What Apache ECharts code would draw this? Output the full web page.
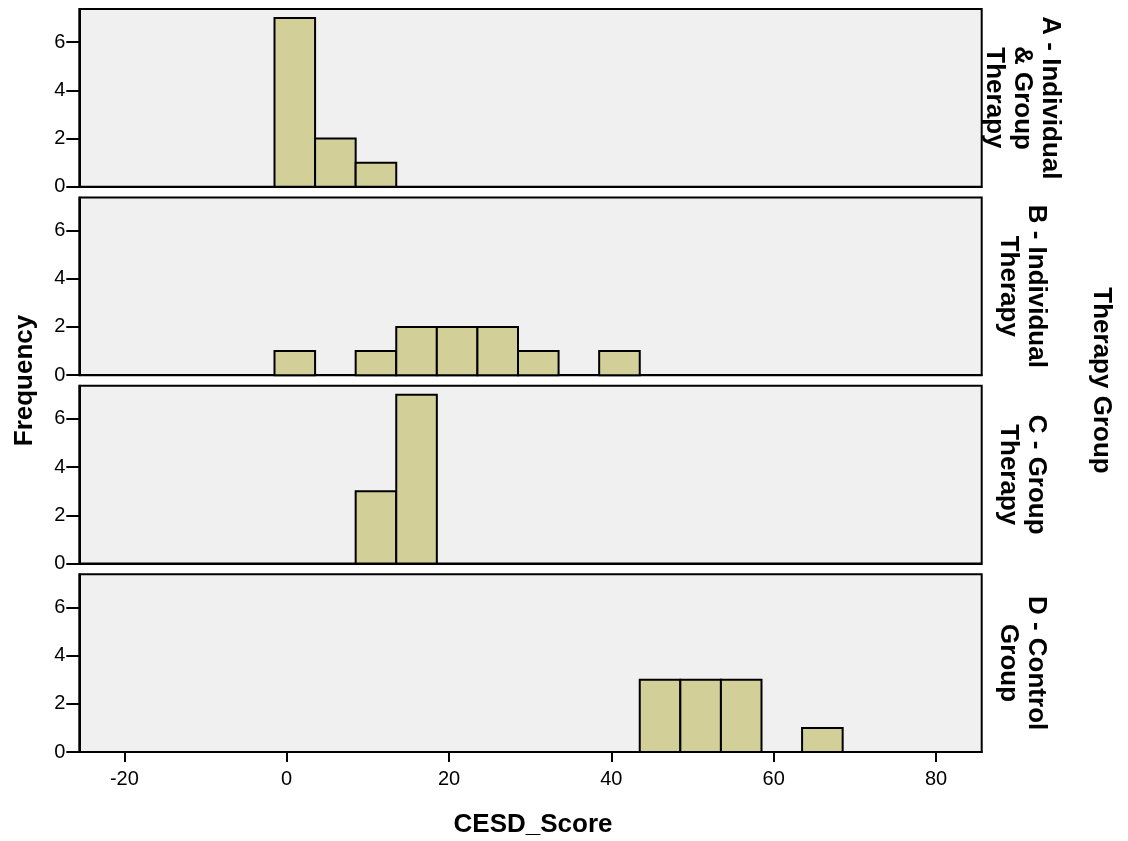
<!DOCTYPE html>
<html>
<head>
<meta charset="utf-8">
<title>CESD_Score by Therapy Group</title>
<script src="https://cdn.jsdelivr.net/npm/echarts@6/dist/echarts.min.js"></script>
<style>
  html, body { margin: 0; padding: 0; background: #ffffff; }
  #chart { width: 1128px; height: 841px; }
</style>
</head>
<body>
<div id="chart"></div>
<script>
// Histogram bins: lower edge of each bin, all bins 5 points wide
const binLows = [-1.5, 3.5, 8.5, 13.5, 18.5, 23.5, 28.5, 33.5, 38.5, 43.5, 48.5, 53.5, 58.5, 63.5];
const binWidth = 5;

// Panel labels (one panel per therapy group)
const groupLabels = [
  'A - Individual\n& Group\nTherapy',
  'B - Individual\nTherapy',
  'C - Group\nTherapy',
  'D - Control\nGroup'
];

// Frequency per bin for each group
const countsA = [7, 2, 1, 0, 0, 0, 0, 0, 0, 0, 0, 0, 0, 0];
const countsB = [1, 0, 1, 2, 2, 2, 1, 0, 1, 0, 0, 0, 0, 0];
const countsC = [0, 0, 3, 7, 0, 0, 0, 0, 0, 0, 0, 0, 0, 0];
const countsD = [0, 0, 0, 0, 0, 0, 0, 0, 0, 3, 3, 3, 0, 1];
const groupCounts = [countsA, countsB, countsC, countsD];

// Axis ticks
const xTicks = [-20, 0, 20, 40, 60, 80];
const yTicks = [0, 2, 4, 6];
const xRange = [-25.55, 85.63];
const yMax = 7.37;

// Layout of the stacked panels
const PLOT_LEFT = 79.3;
const PLOT_RIGHT = 981.7;
const PANEL_H = 177.8;
const PANEL_STEP = 188.4;
const FIRST_TOP = 9;

const FONT = '"Liberation Sans", Arial, Helvetica, sans-serif';
const BAR_FILL = '#d3cf98';

const grids = [], xAxes = [], yAxes = [], series = [], graphics = [];

groupCounts.forEach(function (counts, i) {
  const top = FIRST_TOP + i * PANEL_STEP;
  const isBottom = i === groupCounts.length - 1;
  grids.push({
    left: PLOT_LEFT,
    width: PLOT_RIGHT - PLOT_LEFT,
    top: top,
    height: PANEL_H,
    show: true,
    backgroundColor: '#f0f0f0',
    borderColor: '#000000',
    borderWidth: 2
  });
  xAxes.push({
    type: 'value',
    gridIndex: i,
    min: xRange[0],
    max: xRange[1],
    axisLine: { show: true, onZero: false, lineStyle: { color: '#000', width: 2 } },
    axisTick: { show: isBottom, customValues: xTicks, length: 10, lineStyle: { color: '#000', width: 2 } },
    axisLabel: { show: isBottom, customValues: xTicks, color: '#000', fontSize: 20, fontFamily: FONT, margin: 17 },
    splitLine: { show: false }
  });
  yAxes.push({
    type: 'value',
    gridIndex: i,
    min: 0,
    max: yMax,
    axisLine: { show: true, onZero: false, lineStyle: { color: '#000', width: 2 } },
    axisTick: { show: true, customValues: yTicks, length: 13, lineStyle: { color: '#000', width: 2 } },
    axisLabel: { show: true, customValues: yTicks, color: '#000', fontSize: 20, fontFamily: FONT, margin: 14 },
    splitLine: { show: false }
  });

  const data = [];
  counts.forEach(function (c, k) {
    if (c > 0) data.push([binLows[k], c]);
  });
  series.push({
    type: 'custom',
    xAxisIndex: i,
    yAxisIndex: i,
    data: data,
    renderItem: function (params, api) {
      const low = api.value(0);
      const count = api.value(1);
      const p0 = api.coord([low, count]);
      const p1 = api.coord([low + binWidth, 0]);
      return {
        type: 'rect',
        shape: { x: p0[0], y: p0[1], width: p1[0] - p0[0], height: p1[1] - p0[1] },
        style: { fill: BAR_FILL, stroke: '#000', lineWidth: 2 }
      };
    }
  });

  // Group label to the right of each panel, rotated to read top-to-bottom
  graphics.push({
    type: 'text',
    x: 1022,
    y: top + PANEL_H / 2,
    rotation: -Math.PI / 2,
    style: {
      text: groupLabels[i],
      fill: '#000',
      font: 'bold 26px ' + FONT,
      align: 'center',
      verticalAlign: 'middle',
      lineHeight: 28
    }
  });
});

const plotsTop = FIRST_TOP;
const plotsBottom = FIRST_TOP + 3 * PANEL_STEP + PANEL_H;

graphics.push({
  type: 'text',
  x: 25,
  y: (plotsTop + plotsBottom) / 2,
  rotation: Math.PI / 2,
  style: { text: 'Frequency', fill: '#000', font: 'bold 26px ' + FONT, align: 'center', verticalAlign: 'middle' }
});
graphics.push({
  type: 'text',
  x: 1101,
  y: (plotsTop + plotsBottom) / 2,
  rotation: -Math.PI / 2,
  style: { text: 'Therapy Group', fill: '#000', font: 'bold 26px ' + FONT, align: 'center', verticalAlign: 'middle' }
});
graphics.push({
  type: 'text',
  x: 533,
  y: 825,
  style: { text: 'CESD_Score', fill: '#000', font: 'bold 26px ' + FONT, align: 'center', verticalAlign: 'middle' }
});

const chart = echarts.init(document.getElementById('chart'), null, { renderer: 'canvas' });
chart.setOption({
  backgroundColor: '#ffffff',
  animation: false,
  grid: grids,
  xAxis: xAxes,
  yAxis: yAxes,
  series: series,
  graphic: graphics
});
</script>
</body>
</html>
